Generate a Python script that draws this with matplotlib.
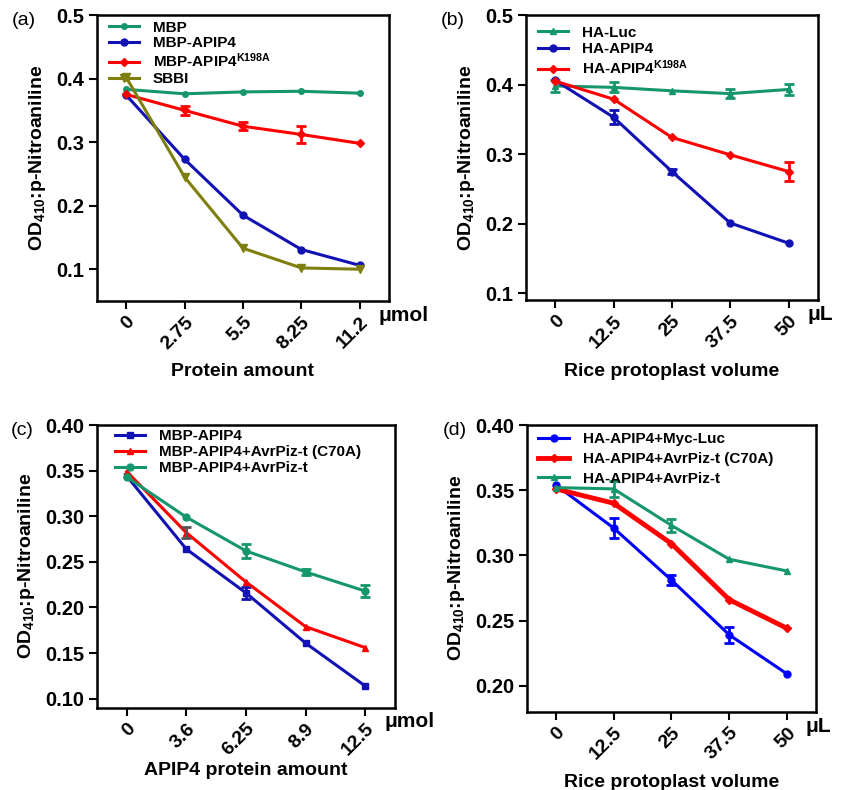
import numpy as np
import matplotlib
matplotlib.use('Agg')
import matplotlib.pyplot as plt

plt.rcParams['font.family'] = ['Liberation Sans', 'DejaVu Sans']
plt.rcParams['font.weight'] = 'bold'
plt.rcParams['mathtext.fontset'] = 'custom'
plt.rcParams['mathtext.rm'] = 'Liberation Sans:bold'
plt.rcParams['mathtext.bf'] = 'Liberation Sans:bold'
plt.rcParams['mathtext.default'] = 'rm'

GREEN = '#16976B'
BLUE = '#1212B4'
BRIGHT_BLUE = '#0000FF'
RED = '#FF0000'
OLIVE = '#7F7F10'

# (a) protein amount, umol
a_ticks = ['0', '2.75', '5.5', '8.25', '11.2']
a_mbp = [0.383, 0.376, 0.379, 0.380, 0.377]
a_apip4 = [0.374, 0.273, 0.185, 0.131, 0.106]
a_k198a = [0.375, 0.350, 0.325, 0.312, 0.298]
a_k198a_err = [0, 0.007, 0.006, 0.014, 0]
a_sbbi = [0.402, 0.245, 0.133, 0.102, 0.100]

# (b) rice protoplast volume, uL
b_ticks = ['0', '12.5', '25', '37.5', '50']
b_luc = [0.398, 0.396, 0.391, 0.387, 0.393]
b_luc_err = [0.008, 0.007, 0, 0.006, 0.008]
b_apip4 = [0.406, 0.353, 0.275, 0.201, 0.172]
b_apip4_err = [0, 0.010, 0.004, 0, 0]
b_k198a = [0.405, 0.379, 0.324, 0.299, 0.275]
b_k198a_err = [0, 0, 0, 0, 0.014]

# (c) APIP4 protein amount, umol
c_ticks = ['0', '3.6', '6.25', '8.9', '12.5']
c_apip4 = [0.344, 0.264, 0.216, 0.161, 0.114]
c_apip4_err = [0, 0, 0.007, 0, 0]
c_c70a = [0.349, 0.282, 0.228, 0.179, 0.156]
c_c70a_err = [0, 0.006, 0, 0, 0]
c_avr = [0.343, 0.299, 0.262, 0.239, 0.218]
c_avr_err = [0, 0, 0.008, 0.003, 0.007]

# (d) rice protoplast volume, uL
d_ticks = ['0', '12.5', '25', '37.5', '50']
d_luc = [0.354, 0.321, 0.281, 0.239, 0.209]
d_luc_err = [0, 0.008, 0.004, 0.006, 0]
d_c70a = [0.351, 0.340, 0.309, 0.266, 0.244]
d_avr = [0.352, 0.351, 0.323, 0.297, 0.288]
d_avr_err = [0, 0.006, 0.005, 0, 0]

YLABEL = r'OD$_{410}$:p-Nitroaniline'


def series(ax, y, color, marker, label, err=None, ms=5, lw=2.2, ecolor=None):
    x = np.arange(len(y))
    ax.plot(x, y, color=color, marker=marker, ms=ms, lw=lw, label=label)
    if err is not None:
        err = np.array(err)
        m = err > 0
        ax.errorbar(x[m], np.array(y)[m], yerr=err[m], fmt='none',
                    ecolor=ecolor or color, elinewidth=2, capsize=3.5, capthick=2)


def style(ax, ticks, ylim, yticks, yfmt, xlabel, unit, tag, xpad=8):
    ax.set_xlim(-0.5, 4.5)
    ax.set_ylim(*ylim)
    ax.set_yticks(yticks)
    ax.set_yticklabels([yfmt % v for v in yticks], fontsize=14.5, fontweight='bold')
    ax.set_xticks(np.arange(len(ticks)))
    ax.set_xticklabels(ticks, rotation=45, ha='right', rotation_mode='anchor',
                       fontsize=14, fontweight='bold')
    ax.tick_params(direction='out', length=6, width=1.5, pad=3)
    for s in ax.spines.values():
        s.set_linewidth(1.8)
    ax.set_ylabel(YLABEL, fontsize=14, fontweight='bold', labelpad=6)
    ax.set_xlabel(xlabel, fontsize=14, fontweight='bold', labelpad=xpad)
    ax.text(0.965, -0.05, unit, transform=ax.transAxes, fontsize=15,
            fontweight='bold', va='center', ha='left')
    ax.text(-0.25, 0.98, tag, transform=ax.transAxes, fontsize=14,
            fontweight='normal', va='center', ha='center')


def legend(ax, x0, y0, spacing):
    ax.legend(loc='upper left', bbox_to_anchor=(x0, y0), frameon=False,
              borderpad=0, borderaxespad=0, handlelength=2.0,
              handletextpad=0.9, labelspacing=spacing, prop={'weight': 'bold', 'size': 11})


fig = plt.figure(figsize=(8.43, 7.9), dpi=100)
ax_a = fig.add_axes([0.115, 0.619, 0.3465, 0.362])
ax_b = fig.add_axes([0.624, 0.620, 0.346, 0.361])
ax_c = fig.add_axes([0.115, 0.104, 0.3535, 0.358])
ax_d = fig.add_axes([0.625, 0.099, 0.343, 0.363])

# (a)
series(ax_a, a_mbp, GREEN, 'o', 'MBP', ms=4)
series(ax_a, a_apip4, BLUE, 'o', 'MBP-APIP4', ms=5)
series(ax_a, a_k198a, RED, 'D', r'MBP-APIP4$^{\mathrm{K198A}}$', err=a_k198a_err, ms=4)
series(ax_a, a_sbbi, OLIVE, 'v', 'SBBI', ms=6)
style(ax_a, a_ticks, (0.05, 0.5), [0.1, 0.2, 0.3, 0.4, 0.5], '%.1f',
      'Protein amount', 'μmol', '(a)')
legend(ax_a, 0.04, 0.98, 0.1)

# (b)
series(ax_b, b_luc, GREEN, '^', 'HA-Luc', err=b_luc_err, ms=5)
series(ax_b, b_apip4, BLUE, 'o', 'HA-APIP4', err=b_apip4_err, ms=5)
series(ax_b, b_k198a, RED, 'D', r'HA-APIP4$^{\mathrm{K198A}}$', err=b_k198a_err, ms=4)
style(ax_b, b_ticks, (0.09, 0.5), [0.1, 0.2, 0.3, 0.4, 0.5], '%.1f',
      'Rice protoplast volume', 'μL', '(b)')
legend(ax_b, 0.04, 0.962, 0.15)

# (c)
series(ax_c, c_apip4, BLUE, 's', 'MBP-APIP4', err=c_apip4_err, ms=5)
series(ax_c, c_c70a, RED, '^', 'MBP-APIP4+AvrPiz-t (C70A)', err=c_c70a_err,
       ms=5, ecolor='#555555')
series(ax_c, c_avr, GREEN, 'o', 'MBP-APIP4+AvrPiz-t', err=c_avr_err, ms=5)
style(ax_c, c_ticks, (0.09, 0.40), [0.10, 0.15, 0.20, 0.25, 0.30, 0.35, 0.40], '%.2f',
      'APIP4 protein amount', 'μmol', '(c)', xpad=2)
legend(ax_c, 0.06, 0.985, 0.12)

# (d)
series(ax_d, d_luc, BRIGHT_BLUE, 'o', 'HA-APIP4+Myc-Luc', err=d_luc_err, ms=5)
series(ax_d, d_c70a, RED, 'D', 'HA-APIP4+AvrPiz-t (C70A)', ms=4, lw=3.5)
series(ax_d, d_avr, GREEN, '^', 'HA-APIP4+AvrPiz-t', err=d_avr_err, ms=5)
style(ax_d, d_ticks, (0.18, 0.40), [0.20, 0.25, 0.30, 0.35, 0.40], '%.2f',
      'Rice protoplast volume', 'μL', '(d)')
legend(ax_d, 0.04, 0.975, 0.38)

fig.savefig('out.png', dpi=100)
